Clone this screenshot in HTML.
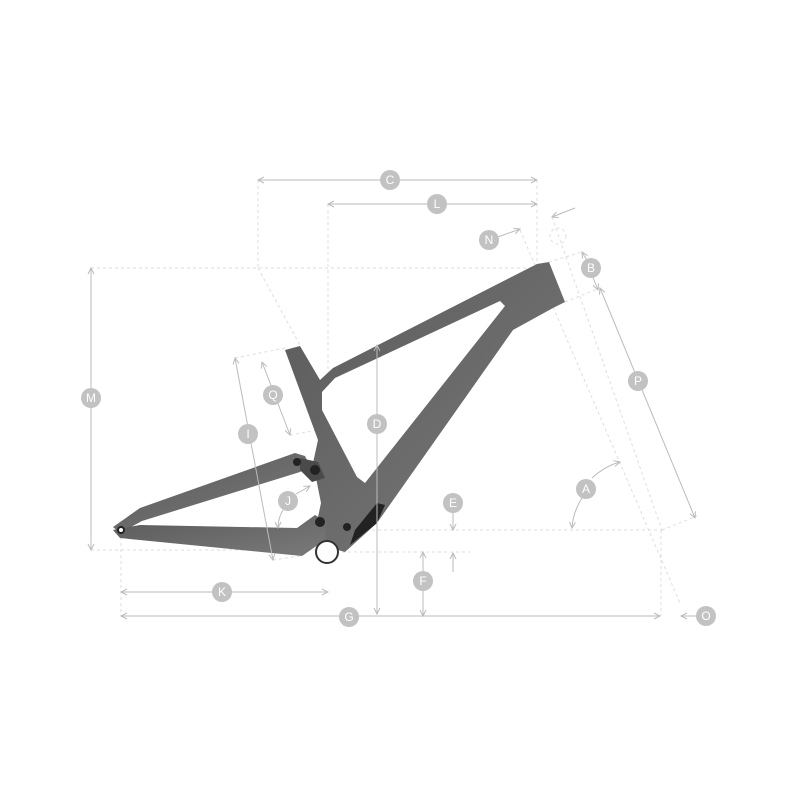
<!DOCTYPE html>
<html><head><meta charset="utf-8"><style>
html,body{margin:0;padding:0;background:#fff;}
svg{display:block}
text{font-family:"Liberation Sans",sans-serif;font-size:12px;fill:#fff;text-anchor:middle;dominant-baseline:central}
</style></head><body>
<svg width="800" height="800" viewBox="0 0 800 800" xmlns="http://www.w3.org/2000/svg">
<defs>
<marker id="a" markerWidth="8" markerHeight="8" refX="7" refY="4" orient="auto-start-reverse" markerUnits="userSpaceOnUse">
<path d="M1,1 L7,4 L1,7" fill="none" stroke="#bbb" stroke-width="1"/></marker>
<linearGradient id="g" x1="0" y1="0" x2="1" y2="1"><stop offset="0" stop-color="#5a5a5a"/><stop offset="1" stop-color="#7a7a7a"/></linearGradient>
</defs>
<!-- dashed guides -->
<g stroke="#ddd" stroke-width="1" stroke-dasharray="3,3" fill="none">
<line x1="91" y1="268" x2="540" y2="268"/>
<line x1="91" y1="550" x2="330" y2="550"/>
<line x1="330" y1="552" x2="470" y2="552"/>
<line x1="300" y1="530" x2="662" y2="530"/>
<line x1="258" y1="180" x2="258" y2="268"/>
<line x1="537" y1="180" x2="537" y2="262"/>
<line x1="328" y1="204" x2="328" y2="380"/>
<line x1="121" y1="537" x2="121" y2="616"/>
<line x1="661" y1="530" x2="661" y2="616"/>
<line x1="520" y1="230" x2="680" y2="603"/>
<line x1="552" y1="217" x2="662" y2="530"/>
<line x1="549" y1="262" x2="582" y2="252"/>
<line x1="565" y1="302" x2="600" y2="288"/>
<line x1="662" y1="530" x2="697" y2="516"/>
<line x1="258" y1="268" x2="300" y2="345"/>
<line x1="235" y1="358" x2="285" y2="348"/>
<line x1="273" y1="560" x2="300" y2="556"/>
<line x1="290" y1="435" x2="318" y2="430"/>
<circle cx="558" cy="236" r="8"/>
</g>
<!-- frame -->
<g fill="url(#g)">
<path d="M285,350 L300,346 L320,380 L333,368 L537,264 L549,262 L565,302 L553,308 L513,330 L377,523 L345,552 L320,545 L318,517 L321,503 L313,463 L318,440 Z M500,301 L335,378 L322,392 L322,410 L357,477 L365,483 L505,306 Z" fill-rule="evenodd"/>
<path d="M113,527 L140,508 L295,453 L305,456 L310,466 L300,472 L142,521 L120,533 Z"/>
<path d="M113,530 L140,525 L297,528 L315,515 L327,522 L325,540 L302,556 L120,538 Z"/>
<path d="M300,458 L318,462 L325,478 L312,482 L300,470 Z" fill="#4a4a4a"/>
<path d="M355,530 L377,503 L385,505 L377,523 L350,545 Z" fill="#222"/>
</g>
<g fill="#222"><circle cx="297" cy="462" r="4"/><circle cx="315" cy="470" r="5"/><circle cx="320" cy="522" r="5"/><circle cx="347" cy="527" r="4"/><circle cx="121" cy="530" r="4"/></g>
<circle cx="121" cy="530" r="2" fill="#fff"/>
<circle cx="327" cy="552" r="11" fill="#fff" stroke="#333" stroke-width="2"/>
<!-- dimension lines -->
<g stroke="#bbb" stroke-width="1" fill="none" marker-start="url(#a)" marker-end="url(#a)">
<line x1="258" y1="180" x2="537" y2="180"/>
<line x1="328" y1="204" x2="537" y2="204"/>
<line x1="91" y1="268" x2="91" y2="550"/>
<line x1="377" y1="345" x2="377" y2="614"/>
<line x1="121" y1="616" x2="660" y2="616"/>
<line x1="121" y1="592" x2="328" y2="592"/>
<line x1="423" y1="552" x2="423" y2="616"/>
<line x1="600" y1="288" x2="695" y2="518"/>
<line x1="262" y1="362" x2="290" y2="435"/>
<line x1="235" y1="358" x2="273" y2="560"/>
</g>
<g stroke="#bbb" stroke-width="1" fill="none" marker-end="url(#a)">
<line x1="453" y1="512" x2="453" y2="530"/>
<line x1="453" y1="572" x2="453" y2="553"/>
<line x1="498" y1="237" x2="520" y2="229"/>
<line x1="575" y1="208" x2="552" y2="217"/>
<line x1="588" y1="262" x2="582" y2="252"/>
<line x1="592" y1="275" x2="598" y2="290"/>
<line x1="700" y1="616" x2="681" y2="616"/>
<path d="M592,478 Q605,466 620,462"/>
<path d="M582,498 Q573,512 572,528"/>
<line x1="296" y1="494" x2="310" y2="486"/>
<path d="M283,510 Q278,518 278,528"/>
</g>
<!-- labels -->
<g fill="#c2c2c2">
<circle cx="390" cy="180" r="10"/><circle cx="437" cy="204" r="10"/><circle cx="489" cy="240" r="10"/>
<circle cx="591" cy="268" r="10"/><circle cx="638" cy="381" r="10"/><circle cx="91" cy="398" r="10"/>
<circle cx="273" cy="395" r="10"/><circle cx="248" cy="434" r="10"/><circle cx="377" cy="424" r="10"/>
<circle cx="586" cy="489" r="10"/><circle cx="453" cy="503" r="10"/><circle cx="288" cy="501" r="10"/>
<circle cx="423" cy="581" r="10"/><circle cx="222" cy="592" r="10"/><circle cx="349" cy="617" r="10"/>
<circle cx="706" cy="616" r="10"/>
</g>
<text x="390" y="180">C</text><text x="437" y="204">L</text><text x="489" y="240">N</text>
<text x="591" y="268">B</text><text x="638" y="381">P</text><text x="91" y="398">M</text>
<text x="273" y="395">Q</text><text x="248" y="434">I</text><text x="377" y="424">D</text>
<text x="586" y="489">A</text><text x="453" y="503">E</text><text x="288" y="501">J</text>
<text x="423" y="581">F</text><text x="222" y="592">K</text><text x="349" y="617">G</text>
<text x="706" y="616">O</text>
</svg>
</body></html>
